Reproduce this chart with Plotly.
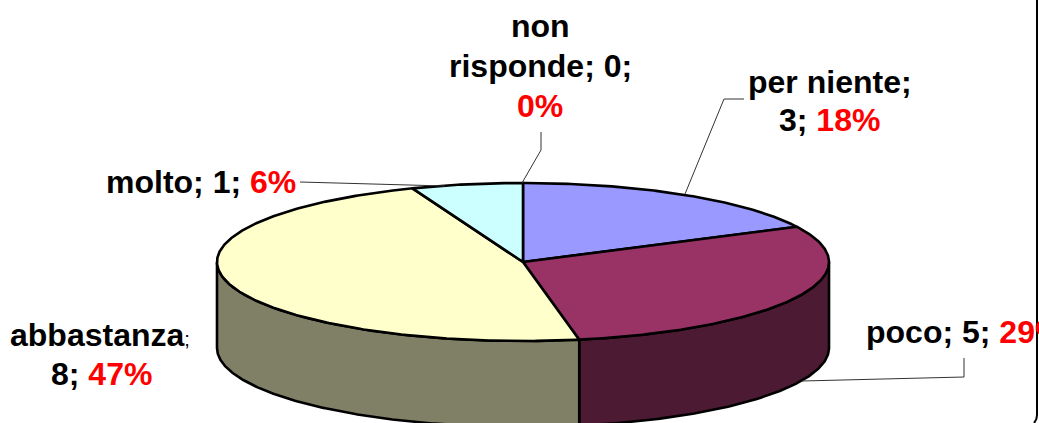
import numpy as np
import plotly.graph_objects as go

# ---- data ----
categories = ["non risponde", "per niente", "poco", "abbastanza", "molto"]
values = [0, 3, 5, 8, 1]
top_colors = ["#CCFFCC", "#9999FF", "#993366", "#FFFFCC", "#CCFFFF"]
side_colors = ["#668066", "#4D4D80", "#4D1A33", "#808066", "#668080"]

# ---- layout of the drawn pie (pixels of the picture) ----
W, H = 1039, 423
CX, CY, RX, RY, DEPTH = 523, 262, 306, 79, 86
FONT = "Liberation Sans"
SIZE = 32
total = sum(values)
pct = [round(v / total * 100) for v in values]


def px(a):
    return CX + RX * np.sin(np.radians(a))


def py(a, dz=0):
    return CY - RY * np.cos(np.radians(a)) + dz


def arc(a0, a1):
    n = max(2, int(abs(a1 - a0) * 2) + 2)
    return np.linspace(a0, a1, n)


fig = go.Figure()
edges = np.concatenate([[0], np.cumsum(values)]) / total * 360


def poly(xs, ys, color):
    fig.add_trace(go.Scatter(
        x=xs, y=ys, mode="lines", fill="toself", fillcolor=color,
        line=dict(color="#000000", width=2.6), hoverinfo="skip", showlegend=False))


# side walls (only the front half of the disc shows a wall)
for i in range(len(values)):
    a0, a1 = max(edges[i], 90), min(edges[i + 1], 270)
    if a1 <= a0:
        continue
    t = arc(a0, a1)
    xs = np.concatenate([px(t), px(t[::-1]), px(t[:1])])
    ys = np.concatenate([py(t), py(t[::-1], DEPTH), py(t[:1])])
    poly(xs, ys, side_colors[i])

# top face wedges
for i in range(len(values)):
    if values[i] == 0:
        continue
    t = arc(edges[i], edges[i + 1])
    xs = np.concatenate([[CX], px(t), [CX]])
    ys = np.concatenate([[CY], py(t), [CY]])
    poly(xs, ys, top_colors[i])


def blk(s):
    return f"<b>{s}</b>"


def red(s):
    return f'<b><span style="color:#FF0000">{s}</span></b>'


small_sep = '<span style="font-size:20px">;</span>'

label_lines = [
    (540, 26, "center", blk("non")),
    (540, 66, "center", blk(f"risponde; {values[0]};")),
    (540, 106, "center", red(f"{pct[0]}%")),
    (830, 82, "center", blk("per niente;")),
    (829, 120, "center", blk(f"{values[1]}; ") + red(f"{pct[1]}%")),
    (864, 332, "left", blk(f"poco; {values[2]}; ") + red(f"{pct[2]}%")),
    (8, 335, "left", blk("abbastanza") + small_sep),
    (101, 374, "center", blk(f"{values[3]}; ") + red(f"{pct[3]}%")),
    (104, 182, "left", blk(f"molto; {values[4]}; ") + red(f"{pct[4]}%")),
]
annotations = [
    dict(x=x, y=y, xref="x", yref="y", text=t, showarrow=False, xanchor=a,
         yanchor="middle", font=dict(family=FONT, size=SIZE, color="#000000"))
    for x, y, a, t in label_lines
]

leaders = [
    "M 541 132 L 541 150 L 522 183",
    "M 744 99 L 724 99 L 685 194",
    "M 964 358 L 964 377 L 802 381",
    "M 300 182 L 445 186",
]
shapes = [dict(type="path", path=p, xref="x", yref="y",
               line=dict(color="#333333", width=1)) for p in leaders]
# right-hand edge of the chart frame, rounding off at the bottom
shapes.append(dict(type="path", xref="x", yref="y",
                   path="M 1037 -2 L 1037 415 Q 1037 420 1034 423",
                   line=dict(color="#000000", width=2)))

fig.update_layout(
    width=W, height=H, margin=dict(l=0, r=0, t=0, b=0), autosize=False,
    paper_bgcolor="#FFFFFF", plot_bgcolor="#FFFFFF", showlegend=False,
    xaxis=dict(range=[0, W], visible=False, fixedrange=True),
    yaxis=dict(range=[H, 0], visible=False, fixedrange=True),
    annotations=annotations, shapes=shapes,
)
fig.write_html("out.html", config=dict(displayModeBar=False),
               post_script="document.body.style.margin='0';document.documentElement.style.overflow='hidden';")
